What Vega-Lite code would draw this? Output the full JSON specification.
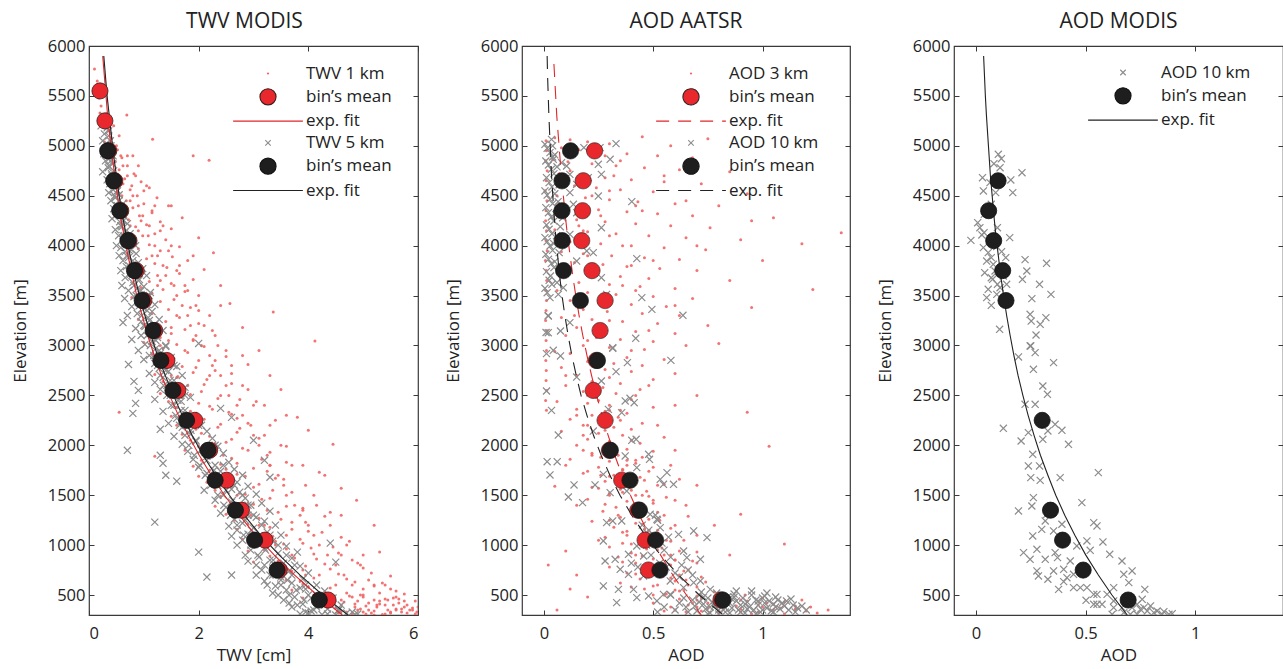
{
"$schema":"https://vega.github.io/schema/vega-lite/v6.json",
"padding":{"left":10,"top":10,"right":0,"bottom":0},
"spacing":104,
"bounds":"flush",
"resolve":{"scale":{"fill":"independent","stroke":"independent","shape":"independent","size":"independent","strokeDash":"independent"},"legend":{"fill":"independent","stroke":"independent","shape":"independent","size":"independent","strokeDash":"independent"}},
"datasets":{
"p1r":[{"x":0.1,"y":5770},{"x":0.15,"y":5650},{"x":0.18,"y":5480},{"x":0.22,"y":5400},{"x":0.69,"y":5310},{"x":0.2,"y":5330},{"x":0.26,"y":5260},{"x":0.3,"y":5200},{"x":0.35,"y":5150},{"x":1.16,"y":5065},{"x":0.4,"y":5080},{"x":0.28,"y":5040},{"x":0.45,"y":5000},{"x":0.52,"y":4960},{"x":0.38,"y":4930},{"x":1.9,"y":4900},{"x":2.19,"y":4855},{"x":0.6,"y":4880},{"x":0.48,"y":4840},{"x":0.7,"y":4800},{"x":0.55,"y":4760},{"x":0.82,"y":4720},{"x":0.45,"y":4700},{"x":0.65,"y":4670},{"x":0.95,"y":4640},{"x":0.58,"y":4610},{"x":1.1,"y":4580},{"x":0.75,"y":4560},{"x":0.5,"y":4530},{"x":0.88,"y":4500},{"x":1.24,"y":4480},{"x":0.68,"y":4450},{"x":1.0,"y":4420},{"x":1.45,"y":4400},{"x":0.8,"y":4380},{"x":0.6,"y":4350},{"x":1.15,"y":4330},{"x":0.92,"y":4300},{"x":1.7,"y":4280},{"x":0.72,"y":4260},{"x":1.3,"y":4240},{"x":1.05,"y":4210},{"x":0.85,"y":4190},{"x":1.5,"y":4170},{"x":0.65,"y":4150},{"x":1.2,"y":4120},{"x":0.98,"y":4100},{"x":2.0,"y":4080},{"x":1.4,"y":4060},{"x":0.78,"y":4040},{"x":1.1,"y":4010},{"x":1.65,"y":3990},{"x":0.9,"y":3970},{"x":1.3,"y":3950},{"x":2.27,"y":3930},{"x":0.72,"y":3910},{"x":1.52,"y":3890},{"x":1.05,"y":3870},{"x":1.8,"y":3850},{"x":1.2,"y":3820},{"x":0.85,"y":3800},{"x":1.42,"y":3780},{"x":2.1,"y":3760},{"x":1.0,"y":3740},{"x":1.65,"y":3720},{"x":1.25,"y":3700},{"x":0.8,"y":3680},{"x":1.9,"y":3660},{"x":1.1,"y":3640},{"x":1.5,"y":3620},{"x":2.4,"y":3600},{"x":0.95,"y":3580},{"x":1.35,"y":3560},{"x":1.75,"y":3540},{"x":1.15,"y":3520},{"x":2.0,"y":3500},{"x":0.78,"y":3480},{"x":1.55,"y":3460},{"x":1.3,"y":3440},{"x":2.57,"y":3420},{"x":1.0,"y":3400},{"x":1.85,"y":3380},{"x":1.45,"y":3360},{"x":3.36,"y":3335},{"x":1.15,"y":3320},{"x":2.2,"y":3300},{"x":1.65,"y":3280},{"x":0.9,"y":3260},{"x":1.4,"y":3240},{"x":2.0,"y":3220},{"x":1.2,"y":3200},{"x":2.8,"y":3180},{"x":1.75,"y":3160},{"x":1.05,"y":3140},{"x":1.5,"y":3120},{"x":2.3,"y":3100},{"x":1.3,"y":3080},{"x":4.12,"y":3045},{"x":1.9,"y":3060},{"x":1.0,"y":3030},{"x":1.6,"y":3010},{"x":2.1,"y":2990},{"x":1.35,"y":2970},{"x":3.1,"y":2950},{"x":1.8,"y":2930},{"x":1.15,"y":2910},{"x":2.5,"y":2890},{"x":1.55,"y":2870},{"x":2.0,"y":2850},{"x":1.25,"y":2830},{"x":2.9,"y":2810},{"x":1.7,"y":2790},{"x":1.4,"y":2770},{"x":2.3,"y":2750},{"x":1.9,"y":2730},{"x":1.2,"y":2710},{"x":3.3,"y":2700},{"x":1.6,"y":2680},{"x":2.15,"y":2660},{"x":1.35,"y":2640},{"x":2.6,"y":2620},{"x":1.8,"y":2600},{"x":1.5,"y":2580},{"x":3.5,"y":2560},{"x":2.05,"y":2540},{"x":1.3,"y":2520},{"x":2.4,"y":2500},{"x":1.7,"y":2480},{"x":2.75,"y":2460},{"x":1.45,"y":2440},{"x":2.0,"y":2420},{"x":3.2,"y":2400},{"x":1.6,"y":2380},{"x":2.25,"y":2360},{"x":1.85,"y":2340},{"x":0.55,"y":2330},{"x":2.6,"y":2310},{"x":1.5,"y":2290},{"x":3.8,"y":2280},{"x":2.1,"y":2260},{"x":1.75,"y":2240},{"x":2.9,"y":2220},{"x":1.6,"y":2200},{"x":2.35,"y":2180},{"x":1.95,"y":2160},{"x":4.0,"y":2150},{"x":2.7,"y":2130},{"x":1.7,"y":2110},{"x":2.2,"y":2090},{"x":3.1,"y":2070},{"x":1.85,"y":2050},{"x":2.5,"y":2030},{"x":4.45,"y":2010},{"x":2.0,"y":1990},{"x":2.8,"y":1970},{"x":1.75,"y":1950},{"x":3.3,"y":1930},{"x":2.3,"y":1910},{"x":1.2,"y":1890},{"x":2.6,"y":1870},{"x":2.05,"y":1850},{"x":3.6,"y":1830},{"x":2.4,"y":1810},{"x":1.9,"y":1790},{"x":3.0,"y":1770},{"x":2.2,"y":1750},{"x":4.2,"y":1730},{"x":2.7,"y":1710},{"x":2.0,"y":1690},{"x":3.4,"y":1670},{"x":2.45,"y":1650},{"x":2.15,"y":1630},{"x":3.1,"y":1610},{"x":2.6,"y":1590},{"x":4.6,"y":1570},{"x":2.3,"y":1550},{"x":3.7,"y":1530},{"x":2.85,"y":1510},{"x":2.4,"y":1490},{"x":3.3,"y":1470},{"x":4.88,"y":1450},{"x":2.6,"y":1430},{"x":3.0,"y":1410},{"x":2.3,"y":1390},{"x":3.9,"y":1370},{"x":2.75,"y":1350},{"x":3.45,"y":1330},{"x":2.5,"y":1310},{"x":4.3,"y":1290},{"x":3.1,"y":1270},{"x":2.65,"y":1250},{"x":3.7,"y":1230},{"x":2.9,"y":1210},{"x":5.2,"y":1200},{"x":3.3,"y":1180},{"x":2.7,"y":1160},{"x":4.0,"y":1140},{"x":3.05,"y":1120},{"x":3.6,"y":1100},{"x":4.6,"y":1080},{"x":2.8,"y":1060},{"x":3.4,"y":1040},{"x":3.9,"y":1020},{"x":3.1,"y":1000},{"x":4.45,"y":980},{"x":3.6,"y":960},{"x":2.9,"y":940},{"x":5.3,"y":930},{"x":4.1,"y":910},{"x":3.3,"y":890},{"x":3.75,"y":870},{"x":4.8,"y":850},{"x":3.0,"y":830},{"x":4.3,"y":810},{"x":3.55,"y":790},{"x":5.0,"y":770},{"x":3.9,"y":750},{"x":3.35,"y":730},{"x":4.55,"y":710},{"x":5.5,"y":690},{"x":4.1,"y":670},{"x":3.6,"y":650},{"x":4.85,"y":630},{"x":3.9,"y":610},{"x":5.2,"y":590},{"x":4.4,"y":570},{"x":3.7,"y":550},{"x":5.6,"y":540},{"x":4.7,"y":520},{"x":4.1,"y":500},{"x":5.0,"y":480},{"x":3.9,"y":470},{"x":5.4,"y":460},{"x":4.6,"y":450},{"x":5.75,"y":440},{"x":4.3,"y":430},{"x":5.1,"y":420},{"x":4.85,"y":410},{"x":5.55,"y":400},{"x":4.4,"y":390},{"x":5.25,"y":380},{"x":5.9,"y":370},{"x":4.95,"y":360},{"x":5.45,"y":350},{"x":4.6,"y":340},{"x":5.7,"y":330},{"x":5.15,"y":320},{"x":4.8,"y":310},{"x":5.95,"y":310},{"x":5.35,"y":305},{"x":5.6,"y":360},{"x":5.05,"y":390},{"x":5.8,"y":400},{"x":4.65,"y":430},{"x":5.3,"y":440},{"x":5.55,"y":470},{"x":4.95,"y":500},{"x":5.85,"y":350},{"x":5.2,"y":340},{"x":4.5,"y":370},{"x":5.65,"y":420},{"x":5.0,"y":330},{"x":5.4,"y":310},{"x":5.98,"y":330},{"x":0.5,"y":5000},{"x":0.58,"y":4900},{"x":0.62,"y":4800},{"x":0.7,"y":4700},{"x":0.78,"y":4600},{"x":0.8,"y":4500},{"x":0.9,"y":4400},{"x":0.98,"y":4300},{"x":1.1,"y":4200},{"x":1.08,"y":4100},{"x":1.2,"y":4000},{"x":1.25,"y":3900},{"x":1.35,"y":3800},{"x":1.4,"y":3700},{"x":1.55,"y":3600},{"x":1.6,"y":3500},{"x":1.7,"y":3400},{"x":1.8,"y":3300},{"x":1.85,"y":3200},{"x":1.95,"y":3100},{"x":2.05,"y":3000},{"x":2.2,"y":2900},{"x":2.25,"y":2800},{"x":2.4,"y":2700},{"x":2.5,"y":2600},{"x":2.55,"y":2500},{"x":2.7,"y":2400},{"x":2.8,"y":2300},{"x":2.95,"y":2200},{"x":3.0,"y":2100},{"x":3.1,"y":2000},{"x":3.25,"y":1900},{"x":3.3,"y":1800},{"x":3.45,"y":1700},{"x":3.55,"y":1600},{"x":3.6,"y":1500},{"x":3.75,"y":1400},{"x":3.85,"y":1300},{"x":4.0,"y":1200},{"x":4.1,"y":1100},{"x":4.2,"y":1000},{"x":4.35,"y":900},{"x":4.5,"y":800},{"x":4.65,"y":700},{"x":4.8,"y":600},{"x":5.0,"y":500},{"x":5.2,"y":450},{"x":5.4,"y":400},{"x":5.6,"y":350},{"x":0.9,"y":4800},{"x":1.05,"y":4600},{"x":1.2,"y":4400},{"x":1.35,"y":4200},{"x":1.5,"y":4000},{"x":1.65,"y":3800},{"x":1.75,"y":3600},{"x":1.95,"y":3400},{"x":2.1,"y":3200},{"x":2.35,"y":3000},{"x":2.6,"y":2800},{"x":2.8,"y":2600},{"x":3.0,"y":2400},{"x":3.3,"y":2200},{"x":3.5,"y":2000},{"x":3.7,"y":1800},{"x":3.95,"y":1600},{"x":4.15,"y":1400},{"x":4.4,"y":1200},{"x":4.7,"y":1000},{"x":4.95,"y":800},{"x":5.2,"y":600},{"x":0.6,"y":4500},{"x":0.85,"y":4000},{"x":1.05,"y":3500},{"x":1.3,"y":3000},{"x":1.65,"y":2500},{"x":2.1,"y":2000},{"x":2.7,"y":1500},{"x":3.4,"y":1000},{"x":4.4,"y":500},{"x":0.75,"y":4200},{"x":0.95,"y":3700},{"x":1.2,"y":3200},{"x":1.5,"y":2700},{"x":1.9,"y":2200},{"x":2.45,"y":1700},{"x":3.1,"y":1200},{"x":3.95,"y":700},{"x":4.6,"y":400},{"x":4.9,"y":350},{"x":5.2,"y":300},{"x":5.5,"y":320},{"x":5.75,"y":380},{"x":5.45,"y":450},{"x":5.3,"y":520},{"x":4.8,"y":480},{"x":5.5,"y":560},{"x":5.1,"y":650},{"x":5.0,"y":900},{"x":4.6,"y":1300},{"x":4.3,"y":1700},{"x":3.6,"y":2300},{"x":2.8,"y":2900},{"x":2.4,"y":3400},{"x":1.9,"y":3900},{"x":1.5,"y":4400},{"x":0.8,"y":4900},{"x":0.55,"y":5100},{"x":0.45,"y":5200},{"x":1.45,"y":3050},{"x":1.75,"y":2950},{"x":2.3,"y":2850},{"x":1.95,"y":2780},{"x":2.6,"y":2720},{"x":1.62,"y":2690},{"x":2.1,"y":2610},{"x":2.9,"y":2560},{"x":1.85,"y":2510},{"x":2.35,"y":2470},{"x":3.05,"y":2440},{"x":2.2,"y":2390},{"x":2.55,"y":2330},{"x":1.95,"y":2280},{"x":3.4,"y":2250},{"x":2.4,"y":2210},{"x":2.75,"y":2170},{"x":2.05,"y":2120},{"x":3.2,"y":2100},{"x":2.6,"y":2060},{"x":2.3,"y":2020},{"x":3.6,"y":1990},{"x":2.9,"y":1950},{"x":2.45,"y":1900},{"x":3.15,"y":1860},{"x":2.7,"y":1820},{"x":3.9,"y":1800},{"x":2.5,"y":1760},{"x":3.25,"y":1740},{"x":2.85,"y":1690},{"x":3.55,"y":1660},{"x":2.4,"y":1620},{"x":3.0,"y":1580},{"x":3.35,"y":1550},{"x":2.75,"y":1520},{"x":4.1,"y":1500},{"x":3.15,"y":1460},{"x":2.9,"y":1420},{"x":3.6,"y":1390},{"x":3.25,"y":1350},{"x":4.4,"y":1330},{"x":2.95,"y":1300},{"x":3.5,"y":1260},{"x":3.95,"y":1230},{"x":3.2,"y":1200},{"x":3.7,"y":1160},{"x":4.25,"y":1130},{"x":3.35,"y":1090},{"x":3.85,"y":1060},{"x":4.75,"y":1040},{"x":3.55,"y":1010},{"x":4.05,"y":970},{"x":3.2,"y":950},{"x":4.55,"y":920},{"x":3.7,"y":900},{"x":4.15,"y":860},{"x":3.45,"y":840},{"x":4.9,"y":820},{"x":3.95,"y":790},{"x":4.4,"y":760},{"x":3.7,"y":740},{"x":5.15,"y":720},{"x":4.2,"y":700},{"x":4.7,"y":660},{"x":3.85,"y":640},{"x":5.35,"y":620},{"x":4.5,"y":600},{"x":4.0,"y":580},{"x":5.0,"y":560},{"x":4.3,"y":530},{"x":5.75,"y":510},{"x":4.75,"y":490},{"x":4.15,"y":460},{"x":5.6,"y":480},{"x":4.9,"y":440},{"x":5.3,"y":410},{"x":4.45,"y":400},{"x":5.7,"y":360},{"x":5.1,"y":350},{"x":4.7,"y":330},{"x":5.5,"y":330},{"x":5.9,"y":350},{"x":5.25,"y":400},{"x":4.85,"y":380},{"x":6.0,"y":380},{"x":5.65,"y":460},{"x":5.95,"y":440},{"x":5.8,"y":320},{"x":4.55,"y":320},{"x":5.05,"y":310},{"x":0.7,"y":4900},{"x":0.85,"y":4700},{"x":1.0,"y":4550},{"x":1.15,"y":4350},{"x":1.3,"y":4150},{"x":1.45,"y":3950},{"x":1.6,"y":3750},{"x":1.8,"y":3550},{"x":2.0,"y":3350},{"x":2.25,"y":3150},{"x":2.5,"y":2950},{"x":0.75,"y":4450},{"x":0.95,"y":4250},{"x":1.15,"y":3900},{"x":1.3,"y":3650},{"x":1.6,"y":3300},{"x":1.9,"y":3050},{"x":0.62,"y":4620},{"x":0.9,"y":4150},{"x":1.25,"y":3600},{"x":1.5,"y":3180},{"x":2.2,"y":2700},{"x":2.7,"y":2270},{"x":3.3,"y":1800},{"x":3.9,"y":1350},{"x":4.6,"y":900},{"x":5.4,"y":600}],
"p1g":[{"x":0.26,"y":5300},{"x":0.3,"y":5250},{"x":0.22,"y":5200},{"x":0.33,"y":5180},{"x":0.28,"y":5120},{"x":0.36,"y":5100},{"x":0.25,"y":5050},{"x":0.31,"y":5020},{"x":0.4,"y":5000},{"x":0.34,"y":4960},{"x":0.27,"y":4920},{"x":0.38,"y":4880},{"x":0.3,"y":4850},{"x":0.43,"y":4820},{"x":0.35,"y":4780},{"x":0.25,"y":4740},{"x":0.41,"y":4720},{"x":0.47,"y":4690},{"x":0.33,"y":4660},{"x":0.38,"y":4620},{"x":0.5,"y":4600},{"x":0.44,"y":4560},{"x":0.36,"y":4530},{"x":0.55,"y":4510},{"x":0.48,"y":4480},{"x":0.4,"y":4450},{"x":0.62,"y":4420},{"x":0.52,"y":4400},{"x":0.45,"y":4370},{"x":0.58,"y":4340},{"x":0.5,"y":4310},{"x":0.65,"y":4290},{"x":0.42,"y":4270},{"x":0.56,"y":4240},{"x":0.7,"y":4220},{"x":0.6,"y":4190},{"x":0.48,"y":4160},{"x":0.66,"y":4140},{"x":0.75,"y":4120},{"x":0.54,"y":4100},{"x":0.62,"y":4070},{"x":0.8,"y":4050},{"x":0.7,"y":4030},{"x":0.5,"y":4000},{"x":0.58,"y":3980},{"x":0.77,"y":3960},{"x":0.66,"y":3940},{"x":0.86,"y":3920},{"x":0.55,"y":3900},{"x":0.72,"y":3880},{"x":0.62,"y":3850},{"x":0.9,"y":3830},{"x":0.8,"y":3810},{"x":0.68,"y":3790},{"x":0.98,"y":3770},{"x":0.58,"y":3750},{"x":0.85,"y":3730},{"x":0.75,"y":3710},{"x":1.05,"y":3700},{"x":0.66,"y":3680},{"x":0.92,"y":3660},{"x":0.8,"y":3630},{"x":0.6,"y":3600},{"x":1.0,"y":3590},{"x":0.88,"y":3570},{"x":0.72,"y":3550},{"x":1.12,"y":3530},{"x":0.95,"y":3510},{"x":0.82,"y":3490},{"x":0.65,"y":3470},{"x":1.05,"y":3450},{"x":0.9,"y":3430},{"x":1.2,"y":3410},{"x":0.78,"y":3390},{"x":1.0,"y":3370},{"x":1.15,"y":3340},{"x":0.88,"y":3320},{"x":0.7,"y":3300},{"x":1.08,"y":3280},{"x":1.28,"y":3260},{"x":0.95,"y":3240},{"x":0.62,"y":3230},{"x":1.2,"y":3210},{"x":1.02,"y":3190},{"x":0.85,"y":3170},{"x":1.35,"y":3150},{"x":1.1,"y":3120},{"x":0.95,"y":3100},{"x":1.25,"y":3080},{"x":0.78,"y":3060},{"x":1.15,"y":3040},{"x":2.0,"y":3020},{"x":1.02,"y":3010},{"x":1.4,"y":2990},{"x":1.22,"y":2970},{"x":0.9,"y":2950},{"x":1.3,"y":2920},{"x":1.1,"y":2900},{"x":1.5,"y":2880},{"x":1.0,"y":2860},{"x":1.38,"y":2840},{"x":1.2,"y":2820},{"x":0.72,"y":2810},{"x":1.6,"y":2790},{"x":1.28,"y":2770},{"x":1.45,"y":2740},{"x":1.1,"y":2720},{"x":1.7,"y":2700},{"x":1.35,"y":2680},{"x":1.55,"y":2650},{"x":1.2,"y":2630},{"x":0.82,"y":2640},{"x":1.42,"y":2600},{"x":1.75,"y":2580},{"x":1.3,"y":2560},{"x":0.9,"y":2550},{"x":1.6,"y":2530},{"x":1.48,"y":2500},{"x":1.85,"y":2480},{"x":1.2,"y":2460},{"x":1.68,"y":2440},{"x":0.85,"y":2420},{"x":1.55,"y":2400},{"x":2.4,"y":2370},{"x":1.75,"y":2350},{"x":1.35,"y":2340},{"x":0.8,"y":2320},{"x":1.9,"y":2300},{"x":2.6,"y":2280},{"x":1.6,"y":2270},{"x":1.8,"y":2240},{"x":1.45,"y":2220},{"x":2.0,"y":2200},{"x":1.7,"y":2180},{"x":1.3,"y":2160},{"x":2.15,"y":2140},{"x":1.85,"y":2110},{"x":1.55,"y":2090},{"x":2.25,"y":2070},{"x":3.0,"y":2050},{"x":1.95,"y":2040},{"x":1.7,"y":2010},{"x":2.35,"y":1990},{"x":0.7,"y":1950},{"x":2.05,"y":1960},{"x":1.8,"y":1940},{"x":1.3,"y":1900},{"x":2.45,"y":1920},{"x":2.15,"y":1890},{"x":1.9,"y":1860},{"x":3.2,"y":1850},{"x":1.35,"y":1820},{"x":2.55,"y":1830},{"x":2.3,"y":1800},{"x":2.0,"y":1780},{"x":2.65,"y":1760},{"x":1.4,"y":1700},{"x":2.4,"y":1740},{"x":2.15,"y":1720},{"x":2.8,"y":1700},{"x":2.5,"y":1670},{"x":3.3,"y":1680},{"x":2.25,"y":1650},{"x":1.6,"y":1640},{"x":2.7,"y":1630},{"x":2.35,"y":1600},{"x":2.9,"y":1590},{"x":2.6,"y":1560},{"x":2.1,"y":1550},{"x":2.75,"y":1530},{"x":3.05,"y":1510},{"x":2.45,"y":1500},{"x":2.85,"y":1470},{"x":2.3,"y":1450},{"x":2.6,"y":1430},{"x":3.15,"y":1420},{"x":2.95,"y":1400},{"x":2.5,"y":1380},{"x":2.75,"y":1360},{"x":3.3,"y":1340},{"x":2.4,"y":1320},{"x":2.9,"y":1300},{"x":3.05,"y":1280},{"x":2.65,"y":1260},{"x":1.2,"y":1230},{"x":3.2,"y":1240},{"x":2.8,"y":1220},{"x":3.4,"y":1200},{"x":2.55,"y":1190},{"x":3.0,"y":1170},{"x":2.7,"y":1150},{"x":3.25,"y":1130},{"x":2.9,"y":1110},{"x":3.5,"y":1100},{"x":2.6,"y":1090},{"x":3.1,"y":1070},{"x":2.8,"y":1050},{"x":3.35,"y":1040},{"x":4.4,"y":1020},{"x":3.0,"y":1010},{"x":2.7,"y":1000},{"x":3.6,"y":990},{"x":3.2,"y":970},{"x":2.95,"y":950},{"x":3.8,"y":930},{"x":2.0,"y":930},{"x":3.45,"y":920},{"x":2.85,"y":900},{"x":3.1,"y":880},{"x":3.7,"y":870},{"x":3.3,"y":850},{"x":2.9,"y":840},{"x":4.5,"y":830},{"x":3.55,"y":820},{"x":3.05,"y":800},{"x":3.85,"y":790},{"x":3.35,"y":770},{"x":3.15,"y":750},{"x":3.65,"y":740},{"x":4.0,"y":720},{"x":2.6,"y":700},{"x":2.15,"y":680},{"x":3.3,"y":700},{"x":3.5,"y":680},{"x":3.9,"y":660},{"x":3.2,"y":640},{"x":3.7,"y":620},{"x":4.15,"y":600},{"x":3.4,"y":590},{"x":3.85,"y":570},{"x":3.6,"y":550},{"x":4.3,"y":540},{"x":3.35,"y":520},{"x":4.0,"y":500},{"x":3.75,"y":480},{"x":4.45,"y":470},{"x":3.55,"y":450},{"x":4.2,"y":430},{"x":3.9,"y":410},{"x":4.6,"y":400},{"x":3.7,"y":380},{"x":4.35,"y":360},{"x":4.05,"y":340},{"x":4.7,"y":320},{"x":3.85,"y":310},{"x":4.5,"y":300},{"x":4.25,"y":305},{"x":4.85,"y":305},{"x":3.95,"y":330},{"x":4.15,"y":380},{"x":4.55,"y":350},{"x":3.65,"y":420},{"x":4.3,"y":460},{"x":3.45,"y":500},{"x":3.95,"y":560},{"x":3.25,"y":600},{"x":3.5,"y":650},{"x":4.05,"y":470},{"x":4.8,"y":330},{"x":3.05,"y":700},{"x":4.9,"y":310},{"x":0.33,"y":5250},{"x":0.36,"y":5150},{"x":0.39,"y":5050},{"x":0.37,"y":4950},{"x":0.44,"y":4900},{"x":0.4,"y":4850},{"x":0.36,"y":4800},{"x":0.45,"y":4750},{"x":0.42,"y":4700},{"x":0.48,"y":4650},{"x":0.44,"y":4600},{"x":0.52,"y":4550},{"x":0.47,"y":4500},{"x":0.55,"y":4450},{"x":0.5,"y":4400},{"x":0.6,"y":4350},{"x":0.55,"y":4300},{"x":0.63,"y":4250},{"x":0.58,"y":4200},{"x":0.68,"y":4150},{"x":0.62,"y":4100},{"x":0.72,"y":4050},{"x":0.66,"y":4000},{"x":0.74,"y":3950},{"x":0.69,"y":3900},{"x":0.8,"y":3850},{"x":0.73,"y":3800},{"x":0.86,"y":3750},{"x":0.78,"y":3700},{"x":0.9,"y":3650},{"x":0.82,"y":3600},{"x":0.95,"y":3550},{"x":0.86,"y":3500},{"x":0.98,"y":3450},{"x":0.92,"y":3400},{"x":1.06,"y":3350},{"x":0.96,"y":3300},{"x":1.1,"y":3250},{"x":1.0,"y":3200},{"x":1.16,"y":3150},{"x":1.06,"y":3100},{"x":1.22,"y":3050},{"x":1.12,"y":3000},{"x":1.28,"y":2950},{"x":1.18,"y":2900},{"x":1.35,"y":2850},{"x":1.25,"y":2800},{"x":1.4,"y":2750},{"x":1.3,"y":2700},{"x":1.48,"y":2650},{"x":1.36,"y":2600},{"x":1.55,"y":2550},{"x":1.42,"y":2500},{"x":1.62,"y":2450},{"x":1.5,"y":2400},{"x":1.68,"y":2350},{"x":1.58,"y":2300},{"x":1.78,"y":2250},{"x":1.65,"y":2200},{"x":1.86,"y":2150},{"x":1.75,"y":2100},{"x":1.95,"y":2050},{"x":1.82,"y":2000},{"x":2.05,"y":1950},{"x":1.92,"y":1900},{"x":2.15,"y":1850},{"x":2.02,"y":1800},{"x":2.28,"y":1750},{"x":2.12,"y":1700},{"x":2.38,"y":1650},{"x":2.22,"y":1600},{"x":2.5,"y":1550},{"x":2.35,"y":1500},{"x":2.62,"y":1450},{"x":2.46,"y":1400},{"x":2.72,"y":1350},{"x":2.58,"y":1300},{"x":2.85,"y":1250},{"x":2.7,"y":1200},{"x":2.96,"y":1150},{"x":2.82,"y":1100},{"x":3.08,"y":1050},{"x":2.95,"y":1000},{"x":3.22,"y":950},{"x":3.08,"y":900},{"x":3.36,"y":850},{"x":3.2,"y":800},{"x":3.5,"y":750},{"x":3.35,"y":700},{"x":3.62,"y":650},{"x":3.5,"y":600},{"x":3.78,"y":550},{"x":3.65,"y":500},{"x":3.92,"y":450},{"x":3.8,"y":400},{"x":4.1,"y":350},{"x":4.0,"y":320},{"x":4.35,"y":310},{"x":2.3,"y":2000},{"x":2.8,"y":1500},{"x":3.45,"y":1000},{"x":3.7,"y":700},{"x":4.15,"y":500},{"x":3.15,"y":1200},{"x":2.45,"y":1800},{"x":1.75,"y":2500},{"x":1.4,"y":3000},{"x":1.1,"y":3500},{"x":0.85,"y":4000},{"x":3.3,"y":1100},{"x":3.0,"y":1300},{"x":3.6,"y":900},{"x":3.75,"y":800},{"x":3.95,"y":600},{"x":4.3,"y":400},{"x":4.55,"y":350},{"x":2.65,"y":1600},{"x":2.9,"y":1400},{"x":2.05,"y":2200},{"x":1.55,"y":2800}],
"p1m":[{"s":"b","x":0.2,"y":5550},{"s":"b","x":0.29,"y":5250},{"s":"b","x":0.36,"y":4950},{"s":"b","x":0.47,"y":4650},{"s":"b","x":0.58,"y":4350},{"s":"b","x":0.73,"y":4050},{"s":"b","x":0.86,"y":3750},{"s":"b","x":1.0,"y":3450},{"s":"b","x":1.2,"y":3150},{"s":"b","x":1.42,"y":2850},{"s":"b","x":1.62,"y":2550},{"s":"b","x":1.93,"y":2250},{"s":"b","x":2.2,"y":1950},{"s":"b","x":2.51,"y":1650},{"s":"b","x":2.78,"y":1350},{"s":"b","x":3.21,"y":1050},{"s":"b","x":3.47,"y":750},{"s":"b","x":4.36,"y":450},{"s":"e","x":0.34,"y":4950},{"s":"e","x":0.45,"y":4650},{"s":"e","x":0.56,"y":4350},{"s":"e","x":0.71,"y":4050},{"s":"e","x":0.83,"y":3750},{"s":"e","x":0.97,"y":3450},{"s":"e","x":1.17,"y":3150},{"s":"e","x":1.31,"y":2850},{"s":"e","x":1.53,"y":2550},{"s":"e","x":1.78,"y":2250},{"s":"e","x":2.17,"y":1950},{"s":"e","x":2.3,"y":1650},{"s":"e","x":2.67,"y":1350},{"s":"e","x":3.02,"y":1050},{"s":"e","x":3.43,"y":750},{"s":"e","x":4.2,"y":450}],
"p1f":[{"s":"c","x":4.62,"y":300},{"s":"c","x":4.16,"y":500},{"s":"c","x":3.75,"y":700},{"s":"c","x":3.38,"y":900},{"s":"c","x":3.04,"y":1100},{"s":"c","x":2.74,"y":1300},{"s":"c","x":2.47,"y":1500},{"s":"c","x":2.23,"y":1700},{"s":"c","x":2.01,"y":1900},{"s":"c","x":1.81,"y":2100},{"s":"c","x":1.63,"y":2300},{"s":"c","x":1.47,"y":2500},{"s":"c","x":1.32,"y":2700},{"s":"c","x":1.19,"y":2900},{"s":"c","x":1.07,"y":3100},{"s":"c","x":0.97,"y":3300},{"s":"c","x":0.87,"y":3500},{"s":"c","x":0.79,"y":3700},{"s":"c","x":0.71,"y":3900},{"s":"c","x":0.64,"y":4100},{"s":"c","x":0.57,"y":4300},{"s":"c","x":0.52,"y":4500},{"s":"c","x":0.47,"y":4700},{"s":"c","x":0.42,"y":4900},{"s":"c","x":0.38,"y":5100},{"s":"c","x":0.34,"y":5300},{"s":"c","x":0.31,"y":5500},{"s":"c","x":0.28,"y":5700},{"s":"c","x":0.25,"y":5900},{"s":"f","x":4.72,"y":300},{"s":"f","x":4.26,"y":500},{"s":"f","x":3.85,"y":700},{"s":"f","x":3.47,"y":900},{"s":"f","x":3.13,"y":1100},{"s":"f","x":2.83,"y":1300},{"s":"f","x":2.56,"y":1500},{"s":"f","x":2.31,"y":1700},{"s":"f","x":2.08,"y":1900},{"s":"f","x":1.88,"y":2100},{"s":"f","x":1.7,"y":2300},{"s":"f","x":1.54,"y":2500},{"s":"f","x":1.39,"y":2700},{"s":"f","x":1.25,"y":2900},{"s":"f","x":1.13,"y":3100},{"s":"f","x":1.02,"y":3300},{"s":"f","x":0.92,"y":3500},{"s":"f","x":0.83,"y":3700},{"s":"f","x":0.75,"y":3900},{"s":"f","x":0.68,"y":4100},{"s":"f","x":0.61,"y":4300},{"s":"f","x":0.55,"y":4500},{"s":"f","x":0.5,"y":4700},{"s":"f","x":0.45,"y":4900},{"s":"f","x":0.41,"y":5100},{"s":"f","x":0.37,"y":5300},{"s":"f","x":0.33,"y":5500},{"s":"f","x":0.3,"y":5700},{"s":"f","x":0.27,"y":5900}],
"p2r":[{"x":0.01,"y":5050},{"x":0.012,"y":4950},{"x":0.008,"y":4850},{"x":0.015,"y":4750},{"x":0.01,"y":4650},{"x":0.006,"y":4550},{"x":0.014,"y":4450},{"x":0.01,"y":4350},{"x":0.008,"y":4250},{"x":0.012,"y":4150},{"x":0.01,"y":4050},{"x":0.015,"y":3950},{"x":0.007,"y":3850},{"x":0.011,"y":3750},{"x":0.013,"y":3650},{"x":0.009,"y":3550},{"x":0.012,"y":3450},{"x":0.01,"y":3350},{"x":0.008,"y":3250},{"x":0.014,"y":3150},{"x":0.01,"y":3050},{"x":0.012,"y":2950},{"x":0.009,"y":2850},{"x":0.011,"y":2750},{"x":0.01,"y":2650},{"x":0.013,"y":2550},{"x":0.008,"y":2450},{"x":0.012,"y":2350},{"x":0.05,"y":5080},{"x":0.12,"y":5060},{"x":0.2,"y":5040},{"x":0.3,"y":5020},{"x":0.45,"y":5090},{"x":0.58,"y":5000},{"x":0.75,"y":5070},{"x":0.08,"y":4980},{"x":0.16,"y":4960},{"x":0.26,"y":4940},{"x":0.38,"y":4920},{"x":0.52,"y":4900},{"x":0.68,"y":4880},{"x":0.04,"y":4860},{"x":0.11,"y":4840},{"x":0.22,"y":4820},{"x":0.33,"y":4800},{"x":0.46,"y":4780},{"x":0.62,"y":4760},{"x":0.85,"y":4740},{"x":0.07,"y":4720},{"x":0.18,"y":4700},{"x":0.28,"y":4680},{"x":0.4,"y":4660},{"x":0.55,"y":4640},{"x":0.72,"y":4620},{"x":0.14,"y":4600},{"x":0.24,"y":4580},{"x":0.35,"y":4560},{"x":0.5,"y":4540},{"x":0.93,"y":4520},{"x":0.06,"y":4500},{"x":0.19,"y":4480},{"x":0.3,"y":4460},{"x":0.43,"y":4440},{"x":0.6,"y":4420},{"x":0.8,"y":4400},{"x":0.1,"y":4380},{"x":0.25,"y":4360},{"x":0.38,"y":4340},{"x":0.52,"y":4320},{"x":0.68,"y":4300},{"x":1.05,"y":4280},{"x":0.15,"y":4260},{"x":0.28,"y":4240},{"x":0.42,"y":4220},{"x":0.58,"y":4200},{"x":0.76,"y":4180},{"x":0.05,"y":4160},{"x":0.2,"y":4140},{"x":0.33,"y":4120},{"x":1.36,"y":4130},{"x":0.48,"y":4100},{"x":0.65,"y":4080},{"x":0.9,"y":4060},{"x":0.12,"y":4040},{"x":0.26,"y":4020},{"x":0.4,"y":4000},{"x":1.18,"y":4020},{"x":0.55,"y":3980},{"x":0.74,"y":3960},{"x":0.08,"y":3940},{"x":0.18,"y":3920},{"x":0.31,"y":3900},{"x":0.46,"y":3880},{"x":0.62,"y":3860},{"x":1.0,"y":3850},{"x":0.14,"y":3830},{"x":0.27,"y":3810},{"x":0.38,"y":3790},{"x":0.53,"y":3770},{"x":0.7,"y":3750},{"x":0.1,"y":3730},{"x":0.22,"y":3710},{"x":0.35,"y":3690},{"x":0.48,"y":3670},{"x":0.85,"y":3650},{"x":0.16,"y":3630},{"x":0.3,"y":3610},{"x":0.44,"y":3590},{"x":0.6,"y":3570},{"x":1.23,"y":3560},{"x":0.06,"y":3550},{"x":0.2,"y":3530},{"x":0.33,"y":3510},{"x":0.5,"y":3490},{"x":0.68,"y":3470},{"x":0.12,"y":3450},{"x":0.25,"y":3430},{"x":0.4,"y":3410},{"x":0.56,"y":3390},{"x":0.95,"y":3380},{"x":0.18,"y":3360},{"x":0.29,"y":3340},{"x":0.45,"y":3320},{"x":0.62,"y":3300},{"x":0.08,"y":3280},{"x":0.22,"y":3260},{"x":0.36,"y":3240},{"x":0.52,"y":3220},{"x":0.75,"y":3200},{"x":0.15,"y":3180},{"x":0.28,"y":3160},{"x":0.42,"y":3140},{"x":0.6,"y":3120},{"x":0.1,"y":3100},{"x":0.24,"y":3080},{"x":0.35,"y":3060},{"x":0.5,"y":3040},{"x":0.8,"y":3020},{"x":0.18,"y":3000},{"x":0.3,"y":2980},{"x":0.46,"y":2960},{"x":0.05,"y":2940},{"x":0.12,"y":2920},{"x":0.25,"y":2900},{"x":0.38,"y":2880},{"x":0.55,"y":2860},{"x":0.2,"y":2840},{"x":0.32,"y":2820},{"x":0.45,"y":2800},{"x":0.08,"y":2780},{"x":0.28,"y":2760},{"x":0.4,"y":2740},{"x":0.6,"y":2720},{"x":0.15,"y":2700},{"x":0.3,"y":2680},{"x":0.5,"y":2660},{"x":0.22,"y":2640},{"x":0.35,"y":2620},{"x":0.1,"y":2600},{"x":0.27,"y":2580},{"x":0.44,"y":2560},{"x":0.18,"y":2540},{"x":0.33,"y":2520},{"x":0.7,"y":2500},{"x":0.24,"y":2480},{"x":0.4,"y":2460},{"x":0.06,"y":2440},{"x":0.2,"y":2420},{"x":0.3,"y":2400},{"x":0.5,"y":2380},{"x":0.15,"y":2360},{"x":0.28,"y":2340},{"x":0.38,"y":2320},{"x":0.93,"y":2330},{"x":0.22,"y":2300},{"x":0.34,"y":2280},{"x":0.12,"y":2260},{"x":0.26,"y":2240},{"x":0.45,"y":2220},{"x":0.18,"y":2200},{"x":0.32,"y":2180},{"x":0.4,"y":2160},{"x":0.08,"y":2140},{"x":0.25,"y":2120},{"x":0.36,"y":2100},{"x":0.55,"y":2080},{"x":0.2,"y":2060},{"x":0.3,"y":2040},{"x":0.44,"y":2020},{"x":0.15,"y":2000},{"x":1.03,"y":1990},{"x":0.28,"y":1980},{"x":0.38,"y":1960},{"x":0.5,"y":1940},{"x":0.22,"y":1920},{"x":0.34,"y":1900},{"x":0.45,"y":1880},{"x":0.12,"y":1860},{"x":0.3,"y":1840},{"x":0.42,"y":1820},{"x":0.58,"y":1800},{"x":0.25,"y":1780},{"x":0.36,"y":1760},{"x":0.48,"y":1740},{"x":0.18,"y":1720},{"x":0.32,"y":1700},{"x":0.44,"y":1680},{"x":0.62,"y":1660},{"x":0.28,"y":1640},{"x":0.4,"y":1620},{"x":0.52,"y":1600},{"x":0.05,"y":1590},{"x":0.22,"y":1580},{"x":0.35,"y":1560},{"x":0.47,"y":1540},{"x":0.3,"y":1520},{"x":0.42,"y":1500},{"x":0.56,"y":1480},{"x":0.2,"y":1460},{"x":0.38,"y":1440},{"x":0.5,"y":1420},{"x":0.65,"y":1400},{"x":0.33,"y":1380},{"x":0.45,"y":1360},{"x":0.27,"y":1340},{"x":0.4,"y":1320},{"x":0.55,"y":1300},{"x":0.9,"y":1310},{"x":0.35,"y":1280},{"x":0.48,"y":1260},{"x":0.22,"y":1240},{"x":0.42,"y":1220},{"x":0.6,"y":1200},{"x":0.32,"y":1180},{"x":0.46,"y":1160},{"x":0.38,"y":1140},{"x":0.52,"y":1120},{"x":0.7,"y":1100},{"x":0.28,"y":1080},{"x":0.44,"y":1060},{"x":0.58,"y":1040},{"x":0.36,"y":1020},{"x":0.5,"y":1000},{"x":1.1,"y":1010},{"x":0.3,"y":980},{"x":0.47,"y":960},{"x":0.62,"y":940},{"x":0.4,"y":920},{"x":0.55,"y":900},{"x":0.34,"y":880},{"x":0.5,"y":860},{"x":0.68,"y":840},{"x":0.42,"y":820},{"x":0.58,"y":800},{"x":0.3,"y":780},{"x":0.48,"y":760},{"x":0.64,"y":740},{"x":0.38,"y":720},{"x":0.54,"y":700},{"x":0.72,"y":680},{"x":0.44,"y":660},{"x":0.6,"y":640},{"x":0.35,"y":620},{"x":0.52,"y":600},{"x":0.7,"y":580},{"x":0.46,"y":560},{"x":0.62,"y":540},{"x":0.8,"y":520},{"x":0.1,"y":940},{"x":0.02,"y":800},{"x":0.15,"y":700},{"x":0.06,"y":350},{"x":0.12,"y":560},{"x":0.2,"y":480},{"x":0.55,"y":500},{"x":0.7,"y":490},{"x":0.85,"y":480},{"x":1.0,"y":470},{"x":0.62,"y":460},{"x":0.78,"y":450},{"x":0.93,"y":440},{"x":1.1,"y":430},{"x":0.68,"y":420},{"x":0.82,"y":410},{"x":0.98,"y":400},{"x":1.15,"y":390},{"x":0.58,"y":380},{"x":0.75,"y":370},{"x":0.9,"y":360},{"x":1.05,"y":350},{"x":1.2,"y":340},{"x":0.65,"y":330},{"x":0.8,"y":320},{"x":0.95,"y":310},{"x":1.1,"y":310},{"x":1.25,"y":320},{"x":1.3,"y":350},{"x":0.72,"y":340},{"x":0.88,"y":390},{"x":1.02,"y":420},{"x":1.18,"y":450},{"x":0.6,"y":350},{"x":1.08,"y":370},{"x":0.5,"y":420},{"x":0.2,"y":2500},{"x":0.25,"y":2450},{"x":0.3,"y":2350},{"x":0.35,"y":2250},{"x":0.28,"y":2150},{"x":0.4,"y":2050},{"x":0.33,"y":1950},{"x":0.42,"y":1850},{"x":0.36,"y":1750},{"x":0.46,"y":1650},{"x":0.4,"y":1550},{"x":0.5,"y":1450},{"x":0.44,"y":1350},{"x":0.53,"y":1250},{"x":0.48,"y":1150},{"x":0.56,"y":1050},{"x":0.52,"y":950},{"x":0.6,"y":850},{"x":0.56,"y":750},{"x":0.65,"y":650},{"x":0.6,"y":550},{"x":0.7,"y":450},{"x":0.15,"y":2300},{"x":0.18,"y":2100},{"x":0.22,"y":1900},{"x":0.26,"y":1700},{"x":0.3,"y":1500},{"x":0.34,"y":1300},{"x":0.38,"y":1100},{"x":0.42,"y":900},{"x":0.46,"y":700},{"x":0.5,"y":500},{"x":0.24,"y":2600},{"x":0.3,"y":2200},{"x":0.38,"y":1800},{"x":0.45,"y":1500},{"x":0.52,"y":1150},{"x":0.58,"y":900},{"x":0.66,"y":600},{"x":0.75,"y":420},{"x":0.9,"y":330},{"x":1.0,"y":380},{"x":0.85,"y":440},{"x":0.7,"y":380},{"x":0.16,"y":3500},{"x":0.24,"y":3700},{"x":0.2,"y":3900},{"x":0.3,"y":4100},{"x":0.26,"y":4300},{"x":0.22,"y":4500},{"x":0.32,"y":4700},{"x":0.28,"y":4900},{"x":0.18,"y":4150},{"x":0.36,"y":3600},{"x":0.14,"y":3300},{"x":0.4,"y":3800},{"x":0.1,"y":4600},{"x":0.42,"y":4400},{"x":0.18,"y":1950},{"x":0.26,"y":1880},{"x":0.38,"y":1850},{"x":0.5,"y":1780},{"x":0.2,"y":1740},{"x":0.3,"y":1690},{"x":0.42,"y":1650},{"x":0.55,"y":1610},{"x":0.25,"y":1570},{"x":0.36,"y":1530},{"x":0.48,"y":1490},{"x":0.6,"y":1450},{"x":0.28,"y":1410},{"x":0.4,"y":1370},{"x":0.52,"y":1330},{"x":0.66,"y":1290},{"x":0.3,"y":1250},{"x":0.45,"y":1210},{"x":0.58,"y":1170},{"x":0.36,"y":1130},{"x":0.5,"y":1090},{"x":0.64,"y":1050},{"x":0.4,"y":1010},{"x":0.54,"y":970},{"x":0.7,"y":930},{"x":0.45,"y":890},{"x":0.6,"y":850},{"x":0.36,"y":830},{"x":0.5,"y":790},{"x":0.66,"y":750},{"x":0.42,"y":710},{"x":0.58,"y":670},{"x":0.74,"y":630},{"x":0.5,"y":590},{"x":0.64,"y":550},{"x":0.4,"y":580},{"x":0.56,"y":510},{"x":0.72,"y":470},{"x":0.9,"y":450},{"x":1.05,"y":410},{"x":0.66,"y":400},{"x":0.82,"y":360},{"x":0.98,"y":330},{"x":1.15,"y":360},{"x":0.55,"y":340},{"x":0.92,"y":500},{"x":0.78,"y":530},{"x":1.22,"y":380},{"x":0.62,"y":700},{"x":0.7,"y":820},{"x":0.25,"y":1050},{"x":0.15,"y":1400},{"x":0.1,"y":1800},{"x":0.6,"y":1950},{"x":0.7,"y":1600},{"x":0.78,"y":1200},{"x":0.85,"y":900},{"x":0.2,"y":2200},{"x":0.35,"y":2350},{"x":0.42,"y":2500},{"x":0.1,"y":2700},{"x":0.52,"y":2200},{"x":0.48,"y":2600},{"x":0.6,"y":2400},{"x":0.2,"y":4950},{"x":0.35,"y":4850},{"x":0.12,"y":4750},{"x":0.3,"y":4550},{"x":0.45,"y":4350},{"x":0.16,"y":4200},{"x":0.36,"y":4000},{"x":0.5,"y":3850},{"x":0.25,"y":3750},{"x":0.42,"y":3550},{"x":0.6,"y":3400},{"x":0.3,"y":3250},{"x":0.48,"y":3150},{"x":0.2,"y":3050},{"x":0.4,"y":2950},{"x":0.65,"y":3000},{"x":0.7,"y":4000},{"x":0.95,"y":4250},{"x":0.55,"y":4700},{"x":0.65,"y":4450}],
"p2g":[{"x":0.005,"y":5015},{"x":0.04,"y":5000},{"x":0.015,"y":4975},{"x":0.028,"y":4932},{"x":0.05,"y":4910},{"x":0.04,"y":4888},{"x":0.009,"y":4848},{"x":0.021,"y":4808},{"x":0.06,"y":4790},{"x":0.034,"y":4765},{"x":0.046,"y":4721},{"x":0.012,"y":4681},{"x":0.024,"y":4631},{"x":0.07,"y":4610},{"x":0.037,"y":4588},{"x":0.005,"y":4548},{"x":0.05,"y":4520},{"x":0.015,"y":4507},{"x":0.028,"y":4464},{"x":0.065,"y":4440},{"x":0.04,"y":4421},{"x":0.009,"y":4381},{"x":0.021,"y":4330},{"x":0.055,"y":4310},{"x":0.034,"y":4287},{"x":0.046,"y":4247},{"x":0.012,"y":4207},{"x":0.075,"y":4190},{"x":0.024,"y":4164},{"x":0.037,"y":4120},{"x":0.058,"y":4100},{"x":0.005,"y":4080},{"x":0.015,"y":4040},{"x":0.045,"y":4020},{"x":0.028,"y":3997},{"x":0.04,"y":3953},{"x":0.07,"y":3930},{"x":0.009,"y":3913},{"x":0.021,"y":3863},{"x":0.05,"y":3840},{"x":0.034,"y":3820},{"x":0.046,"y":3780},{"x":0.012,"y":3740},{"x":0.03,"y":3696},{"x":0.024,"y":3653},{"x":0.06,"y":3630},{"x":0.037,"y":3613},{"x":0.005,"y":3573},{"x":0.015,"y":3529},{"x":0.028,"y":3479},{"x":0.02,"y":3300},{"x":0.01,"y":3130},{"x":0.035,"y":5065},{"x":0.183,"y":4982},{"x":0.257,"y":4982},{"x":0.33,"y":5022},{"x":0.303,"y":4865},{"x":0.043,"y":4865},{"x":0.081,"y":4831},{"x":0.104,"y":4798},{"x":0.119,"y":4714},{"x":0.203,"y":4681},{"x":0.249,"y":4815},{"x":0.263,"y":4714},{"x":0.15,"y":4614},{"x":0.119,"y":4531},{"x":0.249,"y":4497},{"x":0.135,"y":4414},{"x":0.402,"y":4441},{"x":0.15,"y":4330},{"x":0.086,"y":4280},{"x":0.263,"y":4180},{"x":0.119,"y":4113},{"x":0.173,"y":4013},{"x":0.196,"y":3947},{"x":0.226,"y":3930},{"x":0.15,"y":3846},{"x":0.425,"y":3870},{"x":0.263,"y":3679},{"x":0.448,"y":3479},{"x":0.494,"y":3362},{"x":0.636,"y":3302},{"x":0.089,"y":3579},{"x":0.066,"y":3512},{"x":0.287,"y":3512},{"x":0.119,"y":3229},{"x":0.076,"y":3145},{"x":0.02,"y":3128},{"x":0.315,"y":2978},{"x":0.42,"y":3072},{"x":0.02,"y":3295},{"x":0.012,"y":2918},{"x":0.043,"y":2952},{"x":0.076,"y":2895},{"x":0.315,"y":2972},{"x":0.382,"y":2828},{"x":0.33,"y":2738},{"x":0.581,"y":2851},{"x":0.15,"y":2684},{"x":0.263,"y":2644},{"x":0.012,"y":2544},{"x":0.035,"y":2350},{"x":0.295,"y":2360},{"x":0.356,"y":2327},{"x":0.372,"y":2444},{"x":0.394,"y":2471},{"x":0.413,"y":2427},{"x":0.226,"y":2143},{"x":0.066,"y":2103},{"x":0.402,"y":2050},{"x":0.422,"y":2060},{"x":0.015,"y":1836},{"x":0.061,"y":1836},{"x":0.479,"y":1910},{"x":0.483,"y":1860},{"x":0.372,"y":1893},{"x":0.028,"y":1703},{"x":0.138,"y":1603},{"x":0.112,"y":1482},{"x":0.177,"y":1426},{"x":0.234,"y":1603},{"x":0.272,"y":1709},{"x":0.425,"y":1776},{"x":0.563,"y":1726},{"x":0.547,"y":1609},{"x":0.593,"y":1609},{"x":0.532,"y":1659},{"x":0.303,"y":1526},{"x":0.379,"y":1542},{"x":0.356,"y":1242},{"x":0.287,"y":1225},{"x":0.315,"y":1242},{"x":0.486,"y":1309},{"x":0.517,"y":1259},{"x":0.532,"y":1175},{"x":0.471,"y":1125},{"x":0.685,"y":1142},{"x":0.746,"y":1075},{"x":0.616,"y":1108},{"x":0.272,"y":1042},{"x":0.425,"y":992},{"x":0.387,"y":908},{"x":0.456,"y":891},{"x":0.639,"y":941},{"x":0.654,"y":875},{"x":0.716,"y":858},{"x":0.28,"y":841},{"x":0.326,"y":858},{"x":0.349,"y":758},{"x":0.387,"y":708},{"x":0.456,"y":691},{"x":0.547,"y":741},{"x":0.578,"y":641},{"x":0.272,"y":591},{"x":0.341,"y":557},{"x":0.41,"y":557},{"x":0.425,"y":474},{"x":0.333,"y":424},{"x":0.479,"y":491},{"x":0.517,"y":441},{"x":0.547,"y":507},{"x":0.578,"y":507},{"x":0.639,"y":574},{"x":0.685,"y":624},{"x":0.716,"y":641},{"x":0.761,"y":557},{"x":0.45,"y":1200},{"x":0.48,"y":1150},{"x":0.5,"y":1100},{"x":0.52,"y":1250},{"x":0.47,"y":1000},{"x":0.55,"y":950},{"x":0.58,"y":880},{"x":0.53,"y":820},{"x":0.49,"y":900},{"x":0.56,"y":780},{"x":0.6,"y":720},{"x":0.62,"y":680},{"x":0.51,"y":1300},{"x":0.44,"y":1350},{"x":0.46,"y":1050},{"x":0.54,"y":1020},{"x":0.57,"y":1080},{"x":0.43,"y":780},{"x":0.4,"y":820},{"x":0.63,"y":800},{"x":0.66,"y":750},{"x":0.68,"y":700},{"x":0.62,"y":420},{"x":0.65,"y":380},{"x":0.68,"y":450},{"x":0.7,"y":340},{"x":0.71,"y":500},{"x":0.73,"y":410},{"x":0.74,"y":360},{"x":0.75,"y":470},{"x":0.76,"y":320},{"x":0.77,"y":430},{"x":0.78,"y":390},{"x":0.79,"y":520},{"x":0.8,"y":350},{"x":0.81,"y":460},{"x":0.82,"y":400},{"x":0.83,"y":330},{"x":0.84,"y":480},{"x":0.85,"y":420},{"x":0.86,"y":370},{"x":0.87,"y":510},{"x":0.88,"y":440},{"x":0.89,"y":350},{"x":0.9,"y":400},{"x":0.91,"y":470},{"x":0.92,"y":320},{"x":0.93,"y":430},{"x":0.94,"y":380},{"x":0.95,"y":500},{"x":0.96,"y":350},{"x":0.97,"y":450},{"x":0.98,"y":400},{"x":0.99,"y":330},{"x":1.0,"y":470},{"x":1.01,"y":420},{"x":1.02,"y":370},{"x":1.03,"y":440},{"x":1.04,"y":340},{"x":1.05,"y":410},{"x":1.06,"y":380},{"x":1.07,"y":450},{"x":1.08,"y":360},{"x":1.09,"y":420},{"x":1.1,"y":390},{"x":1.12,"y":350},{"x":1.14,"y":400},{"x":1.16,"y":370},{"x":1.18,"y":390},{"x":0.72,"y":530},{"x":0.88,"y":540},{"x":0.95,"y":540},{"x":1.02,"y":520},{"x":0.66,"y":330},{"x":0.69,"y":390},{"x":0.75,"y":310},{"x":0.79,"y":440},{"x":0.83,"y":370},{"x":0.86,"y":460},{"x":0.9,"y":330},{"x":0.93,"y":360},{"x":0.97,"y":310},{"x":1.0,"y":350},{"x":1.05,"y":330},{"x":0.8,"y":310},{"x":0.85,"y":320},{"x":0.76,"y":380},{"x":0.92,"y":410},{"x":0.98,"y":440},{"x":0.71,"y":430},{"x":0.64,"y":470},{"x":0.58,"y":500},{"x":0.6,"y":350},{"x":0.55,"y":380},{"x":0.52,"y":330},{"x":1.11,"y":440},{"x":1.15,"y":330},{"x":1.2,"y":350},{"x":1.13,"y":460},{"x":0.73,"y":480},{"x":0.87,"y":480},{"x":1.01,"y":490},{"x":1.06,"y":480}],
"p2m":[{"s":"h","x":0.232,"y":4950},{"s":"h","x":0.18,"y":4650},{"s":"h","x":0.177,"y":4350},{"s":"h","x":0.173,"y":4050},{"s":"h","x":0.22,"y":3750},{"s":"h","x":0.28,"y":3450},{"s":"h","x":0.257,"y":3150},{"s":"h","x":0.24,"y":2850},{"s":"h","x":0.226,"y":2550},{"s":"h","x":0.28,"y":2250},{"s":"h","x":0.3,"y":1950},{"s":"h","x":0.356,"y":1650},{"s":"h","x":0.43,"y":1350},{"s":"h","x":0.463,"y":1050},{"s":"h","x":0.478,"y":750},{"s":"h","x":0.81,"y":450},{"s":"k","x":0.122,"y":4950},{"s":"k","x":0.083,"y":4650},{"s":"k","x":0.083,"y":4350},{"s":"k","x":0.084,"y":4050},{"s":"k","x":0.09,"y":3750},{"s":"k","x":0.167,"y":3450},{"s":"k","x":0.245,"y":2850},{"s":"k","x":0.304,"y":1950},{"s":"k","x":0.394,"y":1650},{"s":"k","x":0.437,"y":1350},{"s":"k","x":0.511,"y":1050},{"s":"k","x":0.531,"y":750},{"s":"k","x":0.818,"y":450}],
"p2f":[{"s":"i","x":0.72,"y":300},{"s":"i","x":0.652,"y":500},{"s":"i","x":0.59,"y":700},{"s":"i","x":0.534,"y":900},{"s":"i","x":0.483,"y":1100},{"s":"i","x":0.437,"y":1300},{"s":"i","x":0.396,"y":1500},{"s":"i","x":0.358,"y":1700},{"s":"i","x":0.324,"y":1900},{"s":"i","x":0.294,"y":2100},{"s":"i","x":0.266,"y":2300},{"s":"i","x":0.241,"y":2500},{"s":"i","x":0.218,"y":2700},{"s":"i","x":0.197,"y":2900},{"s":"i","x":0.178,"y":3100},{"s":"i","x":0.161,"y":3300},{"s":"i","x":0.146,"y":3500},{"s":"i","x":0.132,"y":3700},{"s":"i","x":0.12,"y":3900},{"s":"i","x":0.108,"y":4100},{"s":"i","x":0.098,"y":4300},{"s":"i","x":0.089,"y":4500},{"s":"i","x":0.08,"y":4700},{"s":"i","x":0.073,"y":4900},{"s":"i","x":0.066,"y":5100},{"s":"i","x":0.059,"y":5300},{"s":"i","x":0.054,"y":5500},{"s":"i","x":0.049,"y":5700},{"s":"i","x":0.046,"y":5820},{"s":"l","x":0.82,"y":300},{"s":"l","x":0.711,"y":500},{"s":"l","x":0.616,"y":700},{"s":"l","x":0.534,"y":900},{"s":"l","x":0.463,"y":1100},{"s":"l","x":0.402,"y":1300},{"s":"l","x":0.348,"y":1500},{"s":"l","x":0.302,"y":1700},{"s":"l","x":0.262,"y":1900},{"s":"l","x":0.227,"y":2100},{"s":"l","x":0.197,"y":2300},{"s":"l","x":0.17,"y":2500},{"s":"l","x":0.148,"y":2700},{"s":"l","x":0.128,"y":2900},{"s":"l","x":0.111,"y":3100},{"s":"l","x":0.096,"y":3300},{"s":"l","x":0.083,"y":3500},{"s":"l","x":0.072,"y":3700},{"s":"l","x":0.063,"y":3900},{"s":"l","x":0.054,"y":4100},{"s":"l","x":0.047,"y":4300},{"s":"l","x":0.041,"y":4500},{"s":"l","x":0.035,"y":4700},{"s":"l","x":0.031,"y":4900},{"s":"l","x":0.027,"y":5100},{"s":"l","x":0.023,"y":5300},{"s":"l","x":0.02,"y":5500},{"s":"l","x":0.017,"y":5700},{"s":"l","x":0.015,"y":5900}],
"p3g":[{"x":0.102,"y":4915},{"x":0.116,"y":4871},{"x":0.082,"y":4821},{"x":0.11,"y":4781},{"x":0.21,"y":4731},{"x":0.03,"y":4681},{"x":0.159,"y":4658},{"x":0.064,"y":4631},{"x":0.034,"y":4548},{"x":0.09,"y":4531},{"x":0.168,"y":4531},{"x":0.07,"y":4414},{"x":0.038,"y":4314},{"x":0.008,"y":4230},{"x":0.018,"y":4180},{"x":0.037,"y":4130},{"x":0.098,"y":4180},{"x":-0.023,"y":4053},{"x":0.027,"y":4107},{"x":0.154,"y":4080},{"x":0.034,"y":3980},{"x":0.056,"y":3930},{"x":0.07,"y":3880},{"x":0.049,"y":3846},{"x":0.079,"y":3813},{"x":0.136,"y":3880},{"x":0.224,"y":3860},{"x":0.322,"y":3823},{"x":0.04,"y":3729},{"x":0.07,"y":3679},{"x":0.232,"y":3746},{"x":0.212,"y":3663},{"x":0.29,"y":3613},{"x":0.098,"y":3613},{"x":0.056,"y":3563},{"x":0.095,"y":3512},{"x":0.255,"y":3469},{"x":0.342,"y":3512},{"x":0.049,"y":3479},{"x":0.07,"y":3402},{"x":0.108,"y":3162},{"x":0.247,"y":3312},{"x":0.252,"y":3245},{"x":0.319,"y":3279},{"x":0.293,"y":3212},{"x":0.274,"y":3105},{"x":0.247,"y":2995},{"x":0.095,"y":3990},{"x":0.117,"y":3940},{"x":0.087,"y":3746},{"x":0.125,"y":3696},{"x":0.11,"y":3579},{"x":0.076,"y":3663},{"x":0.14,"y":3613},{"x":0.25,"y":2995},{"x":0.27,"y":2928},{"x":0.194,"y":2885},{"x":0.262,"y":2761},{"x":0.354,"y":2828},{"x":0.305,"y":2594},{"x":0.326,"y":2511},{"x":0.224,"y":2411},{"x":0.27,"y":2411},{"x":0.125,"y":2170},{"x":0.239,"y":2127},{"x":0.328,"y":2144},{"x":0.361,"y":2210},{"x":0.392,"y":2150},{"x":0.206,"y":2043},{"x":0.305,"y":2060},{"x":0.422,"y":2010},{"x":0.259,"y":1910},{"x":0.239,"y":1793},{"x":0.29,"y":1793},{"x":0.558,"y":1726},{"x":0.25,"y":1676},{"x":0.293,"y":1649},{"x":0.384,"y":1676},{"x":0.262,"y":1476},{"x":0.483,"y":1426},{"x":0.194,"y":1342},{"x":0.255,"y":1392},{"x":0.323,"y":1309},{"x":0.316,"y":1242},{"x":0.537,"y":1225},{"x":0.552,"y":1192},{"x":0.392,"y":1209},{"x":0.259,"y":1092},{"x":0.3,"y":1158},{"x":0.354,"y":1142},{"x":0.384,"y":1075},{"x":0.506,"y":1042},{"x":0.579,"y":1032},{"x":0.46,"y":992},{"x":0.521,"y":948},{"x":0.217,"y":925},{"x":0.278,"y":958},{"x":0.247,"y":858},{"x":0.361,"y":925},{"x":0.372,"y":875},{"x":0.61,"y":908},{"x":0.316,"y":858},{"x":0.278,"y":741},{"x":0.285,"y":691},{"x":0.328,"y":658},{"x":0.354,"y":741},{"x":0.4,"y":758},{"x":0.415,"y":674},{"x":0.445,"y":574},{"x":0.377,"y":557},{"x":0.4,"y":634},{"x":0.476,"y":574},{"x":0.506,"y":574},{"x":0.537,"y":507},{"x":0.552,"y":407},{"x":0.502,"y":447},{"x":0.598,"y":507},{"x":0.628,"y":574},{"x":0.666,"y":841},{"x":0.697,"y":624},{"x":0.674,"y":708},{"x":0.712,"y":741},{"x":0.77,"y":557},{"x":0.758,"y":457},{"x":0.735,"y":407},{"x":0.628,"y":374},{"x":0.674,"y":324},{"x":0.621,"y":307},{"x":0.766,"y":374},{"x":0.796,"y":391},{"x":0.826,"y":340},{"x":0.849,"y":307},{"x":0.88,"y":307},{"x":0.811,"y":324},{"x":0.781,"y":340},{"x":0.75,"y":357},{"x":0.712,"y":374},{"x":0.666,"y":374},{"x":0.628,"y":441},{"x":0.735,"y":307},{"x":0.704,"y":307},{"x":0.857,"y":334},{"x":0.895,"y":314},{"x":0.552,"y":507},{"x":0.575,"y":407},{"x":0.43,"y":841},{"x":0.445,"y":708},{"x":0.537,"y":407}],
"p3m":[{"s":"n","x":0.101,"y":4650},{"s":"n","x":0.058,"y":4350},{"s":"n","x":0.081,"y":4050},{"s":"n","x":0.122,"y":3750},{"s":"n","x":0.137,"y":3450},{"s":"n","x":0.302,"y":2250},{"s":"n","x":0.34,"y":1350},{"s":"n","x":0.395,"y":1050},{"s":"n","x":0.489,"y":750},{"s":"n","x":0.694,"y":450}],
"p3f":[{"s":"o","x":0.69,"y":300},{"s":"o","x":0.62,"y":500},{"s":"o","x":0.558,"y":700},{"s":"o","x":0.501,"y":900},{"s":"o","x":0.451,"y":1100},{"s":"o","x":0.405,"y":1300},{"s":"o","x":0.364,"y":1500},{"s":"o","x":0.328,"y":1700},{"s":"o","x":0.294,"y":1900},{"s":"o","x":0.265,"y":2100},{"s":"o","x":0.238,"y":2300},{"s":"o","x":0.214,"y":2500},{"s":"o","x":0.192,"y":2700},{"s":"o","x":0.173,"y":2900},{"s":"o","x":0.156,"y":3100},{"s":"o","x":0.14,"y":3300},{"s":"o","x":0.126,"y":3500},{"s":"o","x":0.113,"y":3700},{"s":"o","x":0.102,"y":3900},{"s":"o","x":0.091,"y":4100},{"s":"o","x":0.082,"y":4300},{"s":"o","x":0.074,"y":4500},{"s":"o","x":0.066,"y":4700},{"s":"o","x":0.06,"y":4900},{"s":"o","x":0.054,"y":5100},{"s":"o","x":0.048,"y":5300},{"s":"o","x":0.043,"y":5500},{"s":"o","x":0.039,"y":5700},{"s":"o","x":0.035,"y":5900}]
},
"hconcat":[
{
"width":329,"height":569,
"title":{"text":"TWV MODIS","dx":-9},
"layer":[
{"data":{"name":"p1r"},"mark":{"type":"point","shape":"circle","filled":true,"size":9,"color":"#f26464","opacity":0.9,"clip":true},
"encoding":{"x":{"field":"x","type":"quantitative","scale":{"domain":[0,6],"nice":false,"zero":false},"axis":{"values":[0,2,4,6],"format":"~g","title":"TWV [cm]"}},
"y":{"field":"y","type":"quantitative","scale":{"domain":[300,6000],"nice":false,"zero":false},"axis":{"values":[500,1000,1500,2000,2500,3000,3500,4000,4500,5000,5500,6000],"format":"d","title":"Elevation [m]"}}}},
{"data":{"name":"p1g"},"mark":{"type":"point","shape":"M-1,-1L1,1M-1,1L1,-1","size":50,"stroke":"#8c8c8c","strokeWidth":1.2,"opacity":1,"clip":true},
"encoding":{"x":{"field":"x","type":"quantitative","scale":{"domain":[0,6],"nice":false,"zero":false},"axis":null},
"y":{"field":"y","type":"quantitative","scale":{"domain":[300,6000],"nice":false,"zero":false},"axis":null}}},
{"data":{"name":"p1f"},"mark":{"type":"line","strokeWidth":1.1,"clip":true},
"encoding":{"x":{"field":"x","type":"quantitative","scale":{"domain":[0,6],"nice":false,"zero":false},"axis":null},
"y":{"field":"y","type":"quantitative","scale":{"domain":[300,6000],"nice":false,"zero":false},"axis":null},
"stroke":{"field":"s","type":"nominal","scale":{"domain":["a","b","c","d","e","f"],"range":["transparent","#3a1e1e","#e0262b","#8c8c8c","#111111","#222222"]},"legend":{"title":null,"orient":"none","legendX":170,"legendY":19,"labelExpr":"datum.label=='a'?'TWV 1 km':datum.label=='b'||datum.label=='e'?'bin’s mean':datum.label=='d'?'TWV 5 km':'exp. fit'"}}}},
{"data":{"name":"p1m"},"mark":{"type":"point","filled":true,"opacity":1,"strokeWidth":0.8},
"encoding":{"x":{"field":"x","type":"quantitative","scale":{"domain":[0,6],"nice":false,"zero":false},"axis":{"orient":"top","values":[0,2,4,6],"labels":false,"title":null}},
"y":{"field":"y","type":"quantitative","scale":{"domain":[300,6000],"nice":false,"zero":false},"axis":{"orient":"right","values":[500,1000,1500,2000,2500,3000,3500,4000,4500,5000,5500,6000],"labels":false,"title":null}},
"fill":{"field":"s","type":"nominal","scale":{"domain":["a","b","c","d","e","f"],"range":["#f26464","#e8282c","transparent","transparent","#1e1e1e","transparent"]},"legend":{"title":null,"orient":"none","legendX":170,"legendY":19,"labelExpr":"datum.label=='a'?'TWV 1 km':datum.label=='b'||datum.label=='e'?'bin’s mean':datum.label=='d'?'TWV 5 km':'exp. fit'"}},
"stroke":{"field":"s","type":"nominal","scale":{"domain":["a","b","c","d","e","f"],"range":["transparent","#3a1e1e","#e0262b","#8c8c8c","#111111","#222222"]},"legend":{"title":null,"orient":"none","legendX":170,"legendY":19,"labelExpr":"datum.label=='a'?'TWV 1 km':datum.label=='b'||datum.label=='e'?'bin’s mean':datum.label=='d'?'TWV 5 km':'exp. fit'"}},
"shape":{"field":"s","type":"nominal","scale":{"domain":["a","b","c","d","e","f"],"range":["circle","circle","M-16,0L16,0","M-1,-1L1,1M-1,1L1,-1","circle","M-16,0L16,0"]},"legend":{"title":null,"orient":"none","legendX":170,"legendY":19,"labelExpr":"datum.label=='a'?'TWV 1 km':datum.label=='b'||datum.label=='e'?'bin’s mean':datum.label=='d'?'TWV 5 km':'exp. fit'"}},
"size":{"field":"s","type":"nominal","scale":{"type":"ordinal","domain":["a","b","c","d","e","f"],"range":[5,260,19,30,260,19]},"legend":{"title":null,"orient":"none","legendX":170,"legendY":19,"labelExpr":"datum.label=='a'?'TWV 1 km':datum.label=='b'||datum.label=='e'?'bin’s mean':datum.label=='d'?'TWV 5 km':'exp. fit'"}}}}
],
"resolve":{"axis":{"x":"independent","y":"independent"}}
},
{
"width":328,"height":569,
"title":{"text":"AOD AATSR"},
"layer":[
{"data":{"name":"p2r"},"mark":{"type":"point","shape":"circle","filled":true,"size":9,"color":"#f26464","opacity":0.9,"clip":true},
"encoding":{"x":{"field":"x","type":"quantitative","scale":{"domain":[-0.1,1.4],"nice":false,"zero":false},"axis":{"values":[0,0.5,1],"format":"~g","title":"AOD"}},
"y":{"field":"y","type":"quantitative","scale":{"domain":[300,6000],"nice":false,"zero":false},"axis":{"values":[500,1000,1500,2000,2500,3000,3500,4000,4500,5000,5500,6000],"format":"d","title":"Elevation [m]"}}}},
{"data":{"name":"p2g"},"mark":{"type":"point","shape":"M-1,-1L1,1M-1,1L1,-1","size":50,"stroke":"#8c8c8c","strokeWidth":1.2,"opacity":1,"clip":true},
"encoding":{"x":{"field":"x","type":"quantitative","scale":{"domain":[-0.1,1.4],"nice":false,"zero":false},"axis":null},
"y":{"field":"y","type":"quantitative","scale":{"domain":[300,6000],"nice":false,"zero":false},"axis":null}}},
{"data":{"name":"p2f"},"mark":{"type":"line","strokeWidth":1.1,"clip":true},
"encoding":{"x":{"field":"x","type":"quantitative","scale":{"domain":[-0.1,1.4],"nice":false,"zero":false},"axis":null},
"y":{"field":"y","type":"quantitative","scale":{"domain":[300,6000],"nice":false,"zero":false},"axis":null},
"stroke":{"field":"s","type":"nominal","scale":{"domain":["g","h","i","j","k","l"],"range":["transparent","#3a1e1e","#e0262b","#8c8c8c","#111111","#222222"]},"legend":{"title":null,"orient":"none","legendX":160,"legendY":19,"labelExpr":"datum.label=='g'?'AOD 3 km':datum.label=='h'||datum.label=='k'?'bin’s mean':datum.label=='j'?'AOD 10 km':'exp. fit'"}},
"strokeDash":{"field":"s","type":"nominal","scale":{"domain":["g","h","i","j","k","l"],"range":[[1,0],[1,0],[13,9],[1,0],[1,0],[13,9]]},"legend":{"title":null,"orient":"none","legendX":160,"legendY":19,"labelExpr":"datum.label=='g'?'AOD 3 km':datum.label=='h'||datum.label=='k'?'bin’s mean':datum.label=='j'?'AOD 10 km':'exp. fit'"}}}},
{"data":{"name":"p2m"},"mark":{"type":"point","filled":true,"opacity":1,"strokeWidth":0.8},
"encoding":{"x":{"field":"x","type":"quantitative","scale":{"domain":[-0.1,1.4],"nice":false,"zero":false},"axis":{"orient":"top","values":[0,0.5,1],"labels":false,"title":null}},
"y":{"field":"y","type":"quantitative","scale":{"domain":[300,6000],"nice":false,"zero":false},"axis":{"orient":"right","values":[500,1000,1500,2000,2500,3000,3500,4000,4500,5000,5500,6000],"labels":false,"title":null}},
"fill":{"field":"s","type":"nominal","scale":{"domain":["g","h","i","j","k","l"],"range":["#f26464","#e8282c","transparent","transparent","#1e1e1e","transparent"]},"legend":{"title":null,"orient":"none","legendX":160,"legendY":19,"labelExpr":"datum.label=='g'?'AOD 3 km':datum.label=='h'||datum.label=='k'?'bin’s mean':datum.label=='j'?'AOD 10 km':'exp. fit'"}},
"stroke":{"field":"s","type":"nominal","scale":{"domain":["g","h","i","j","k","l"],"range":["transparent","#3a1e1e","#e0262b","#8c8c8c","#111111","#222222"]},"legend":{"title":null,"orient":"none","legendX":160,"legendY":19,"labelExpr":"datum.label=='g'?'AOD 3 km':datum.label=='h'||datum.label=='k'?'bin’s mean':datum.label=='j'?'AOD 10 km':'exp. fit'"}},
"shape":{"field":"s","type":"nominal","scale":{"domain":["g","h","i","j","k","l"],"range":["circle","circle","M-16,0L16,0","M-1,-1L1,1M-1,1L1,-1","circle","M-16,0L16,0"]},"legend":{"title":null,"orient":"none","legendX":160,"legendY":19,"labelExpr":"datum.label=='g'?'AOD 3 km':datum.label=='h'||datum.label=='k'?'bin’s mean':datum.label=='j'?'AOD 10 km':'exp. fit'"}},
"size":{"field":"s","type":"nominal","scale":{"type":"ordinal","domain":["g","h","i","j","k","l"],"range":[5,260,19,30,260,19]},"legend":{"title":null,"orient":"none","legendX":160,"legendY":19,"labelExpr":"datum.label=='g'?'AOD 3 km':datum.label=='h'||datum.label=='k'?'bin’s mean':datum.label=='j'?'AOD 10 km':'exp. fit'"}},
"strokeDash":{"field":"s","type":"nominal","scale":{"domain":["g","h","i","j","k","l"],"range":[[1,0],[1,0],[13,9],[1,0],[1,0],[13,9]]},"legend":{"title":null,"orient":"none","legendX":160,"legendY":19,"labelExpr":"datum.label=='g'?'AOD 3 km':datum.label=='h'||datum.label=='k'?'bin’s mean':datum.label=='j'?'AOD 10 km':'exp. fit'"}}}}
],
"resolve":{"axis":{"x":"independent","y":"independent"}}
},
{
"width":329,"height":569,
"title":{"text":"AOD MODIS"},
"layer":[
{"data":{"name":"p3g"},"mark":{"type":"point","shape":"M-1,-1L1,1M-1,1L1,-1","size":50,"stroke":"#8c8c8c","strokeWidth":1.2,"opacity":1,"clip":true},
"encoding":{"x":{"field":"x","type":"quantitative","scale":{"domain":[-0.1,1.4],"nice":false,"zero":false},"axis":{"values":[0,0.5,1],"format":"~g","title":"AOD"}},
"y":{"field":"y","type":"quantitative","scale":{"domain":[300,6000],"nice":false,"zero":false},"axis":{"values":[500,1000,1500,2000,2500,3000,3500,4000,4500,5000,5500,6000],"format":"d","title":"Elevation [m]"}}}},
{"data":{"name":"p3f"},"mark":{"type":"line","strokeWidth":1.1,"clip":true},
"encoding":{"x":{"field":"x","type":"quantitative","scale":{"domain":[-0.1,1.4],"nice":false,"zero":false},"axis":null},
"y":{"field":"y","type":"quantitative","scale":{"domain":[300,6000],"nice":false,"zero":false},"axis":null},
"stroke":{"field":"s","type":"nominal","scale":{"domain":["m","n","o"],"range":["#8c8c8c","#111111","#222222"]},"legend":{"title":null,"orient":"none","legendX":160,"legendY":18,"labelExpr":"datum.label=='m'?'AOD 10 km':datum.label=='n'?'bin’s mean':'exp. fit'"}}}},
{"data":{"name":"p3m"},"mark":{"type":"point","filled":true,"opacity":1,"strokeWidth":0.8},
"encoding":{"x":{"field":"x","type":"quantitative","scale":{"domain":[-0.1,1.4],"nice":false,"zero":false},"axis":{"orient":"top","values":[0,0.5,1],"labels":false,"title":null}},
"y":{"field":"y","type":"quantitative","scale":{"domain":[300,6000],"nice":false,"zero":false},"axis":{"orient":"right","values":[500,1000,1500,2000,2500,3000,3500,4000,4500,5000,5500,6000],"labels":false,"title":null}},
"fill":{"field":"s","type":"nominal","scale":{"domain":["m","n","o"],"range":["transparent","#1e1e1e","transparent"]},"legend":{"title":null,"orient":"none","legendX":160,"legendY":18,"labelExpr":"datum.label=='m'?'AOD 10 km':datum.label=='n'?'bin’s mean':'exp. fit'"}},
"stroke":{"field":"s","type":"nominal","scale":{"domain":["m","n","o"],"range":["#8c8c8c","#111111","#222222"]},"legend":{"title":null,"orient":"none","legendX":160,"legendY":18,"labelExpr":"datum.label=='m'?'AOD 10 km':datum.label=='n'?'bin’s mean':'exp. fit'"}},
"shape":{"field":"s","type":"nominal","scale":{"domain":["m","n","o"],"range":["M-1,-1L1,1M-1,1L1,-1","circle","M-16,0L16,0"]},"legend":{"title":null,"orient":"none","legendX":160,"legendY":18,"labelExpr":"datum.label=='m'?'AOD 10 km':datum.label=='n'?'bin’s mean':'exp. fit'"}},
"size":{"field":"s","type":"nominal","scale":{"type":"ordinal","domain":["m","n","o"],"range":[30,260,19]},"legend":{"title":null,"orient":"none","legendX":160,"legendY":18,"labelExpr":"datum.label=='m'?'AOD 10 km':datum.label=='n'?'bin’s mean':'exp. fit'"}}}}
],
"resolve":{"axis":{"x":"independent","y":"independent"}}
}
],
"config":{
"font":"Open Sans",
"view":{"stroke":"#3a3a3a","strokeWidth":1.2},
"axis":{"domain":false,"grid":false,"tickSize":-5,"tickColor":"#3a3a3a","tickWidth":1,"labelFont":"Open Sans","labelFontSize":16.5,"labelColor":"#222222","titleFont":"Open Sans","titleFontSize":17,"titleFontWeight":"normal","titleColor":"#222222"},
"axisLeft":{"labelPadding":9,"titlePadding":18},
"axisBottom":{"labelPadding":15,"titlePadding":6},
"legend":{"labelFont":"Open Sans","labelFontSize":17,"labelColor":"#222222","rowPadding":3.8,"labelOffset":29,"symbolStrokeWidth":1.1,"padding":0},
"title":{"font":"Open Sans","fontSize":21,"fontWeight":"normal","color":"#222222","offset":6}
}
}
